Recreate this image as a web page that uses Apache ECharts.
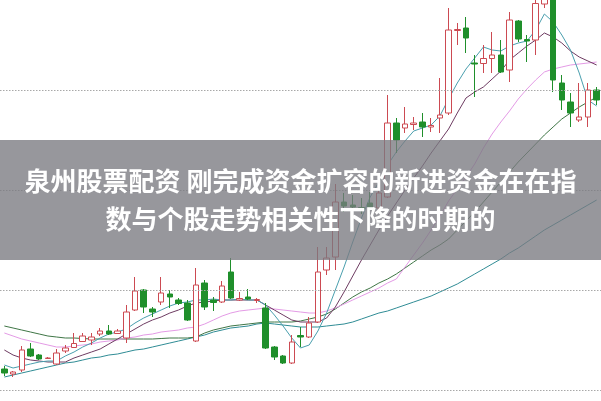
<!DOCTYPE html>
<html>
<head>
<meta charset="utf-8">
<script src="https://cdn.jsdelivr.net/npm/echarts@6/dist/echarts.min.js"></script>
<style>html,body{margin:0;padding:0;background:#fff}#c{width:601px;height:401px}</style>
</head>
<body>
<div id="c"></div>
<script>
// [open, close, low, high]
const candles = [
[10.21,10.17,10.14,10.24],[10.16,10.18,10.13,10.19],[10.20,10.40,10.18,10.44],[10.41,10.34,10.33,10.47],
[10.35,10.31,10.30,10.36],[10.315,10.32,10.31,10.33],[10.26,10.37,10.25,10.41],[10.39,10.42,10.37,10.45],
[10.425,10.465,10.42,10.57],[10.485,10.54,10.48,10.57],[10.50,10.53,10.45,10.57],[10.56,10.59,10.54,10.62],
[10.59,10.56,10.55,10.65],[10.565,10.59,10.56,10.61],[10.52,10.78,10.47,10.85],[10.80,10.99,10.79,11.13],
[11.00,10.83,10.77,11.01],[10.81,10.78,10.73,10.83],[10.88,10.97,10.85,11.13],[10.96,10.93,10.82,11.00],
[10.90,10.865,10.85,10.92],[10.87,10.70,10.69,10.90],[10.49,11.05,10.48,11.22],[11.07,10.83,10.80,11.10],
[10.90,10.875,10.79,10.93],[10.88,11.04,10.87,11.09],[11.18,10.92,10.91,11.32],[10.90,10.915,10.89,10.98],
[10.93,10.91,10.90,11.01],[10.895,10.905,10.87,10.92],[10.82,10.42,10.41,10.87],[10.43,10.33,10.30,10.44],
[10.34,10.27,10.26,10.35],[10.27,10.48,10.26,10.55],[10.545,10.53,10.43,10.63],[10.53,10.67,10.52,10.73],
[10.68,11.18,10.67,11.43],[11.20,11.32,11.15,11.43],[11.33,11.88,11.20,12.06],[11.88,11.84,11.78,11.97],
[11.85,11.83,11.77,11.95],[11.825,11.81,11.76,11.92],[11.87,11.82,11.78,11.98],[11.82,11.97,11.80,12.08],
[11.93,12.67,11.92,12.95],[12.67,12.50,12.37,12.72],[12.62,12.66,12.57,12.83],[12.655,12.67,12.60,12.73],
[12.68,12.63,12.53,12.77],[12.63,12.645,12.58,12.72],[12.72,12.75,12.57,13.12],[12.77,13.60,12.75,13.82],
[13.595,13.605,13.45,13.67],[13.62,13.52,13.37,13.73],[13.27,13.26,12.93,13.35],[13.265,13.315,13.17,13.45],
[13.315,13.35,13.17,13.58],[13.35,13.18,13.17,13.50],[13.20,13.70,13.08,13.78],[13.69,13.51,13.48,13.70],
[13.505,13.49,13.28,13.55],[13.50,13.865,13.35,13.90],[13.86,13.92,13.82,13.95],[13.91,13.10,12.98,13.95],
[13.07,12.90,12.80,13.15],[12.88,12.77,12.63,12.97],[12.70,12.73,12.68,13.07],[12.73,13.00,12.63,13.07],
[13.00,12.90,12.85,13.03]
];
const categories = candles.map((_, i) => 'D' + (i + 1));
const ma5 = [10.25,10.22,10.24,10.26,10.28,10.29,10.29,10.34,10.38,10.43,10.47,10.52,10.56,10.58,10.61,10.67,10.72,10.76,10.80,10.84,10.87,10.88,10.90,10.90,10.91,10.90,10.90,10.91,10.90,10.90,10.85,10.75,10.64,10.52,10.42,10.45,10.59,10.77,11.00,11.23,11.48,11.72,11.93,12.08,12.25,12.38,12.49,12.59,12.62,12.65,12.74,12.91,13.07,13.21,13.32,13.43,13.40,13.39,13.44,13.47,13.49,13.60,13.76,13.68,13.55,13.40,13.17,12.90,12.84];
const ma10 = [10.40,10.35,10.32,10.30,10.29,10.28,10.28,10.28,10.32,10.35,10.38,10.41,10.46,10.51,10.56,10.61,10.66,10.70,10.73,10.77,10.80,10.84,10.87,10.88,10.89,10.90,10.90,10.90,10.90,10.90,10.85,10.80,10.75,10.70,10.68,10.68,10.68,10.72,10.83,10.98,11.14,11.30,11.45,11.60,11.74,11.87,12.00,12.12,12.24,12.37,12.49,12.61,12.77,12.92,12.98,13.03,13.11,13.19,13.30,13.37,13.44,13.50,13.57,13.53,13.47,13.39,13.33,13.29,13.25];
const ma20 = [10.57,10.54,10.51,10.49,10.47,10.45,10.43,10.43,10.44,10.45,10.46,10.48,10.49,10.50,10.52,10.53,10.55,10.56,10.58,10.59,10.60,10.62,10.63,10.66,10.70,10.74,10.77,10.79,10.80,10.81,10.82,10.81,10.80,10.79,10.78,10.77,10.77,10.79,10.82,10.86,10.90,10.94,10.98,11.02,11.07,11.11,11.23,11.35,11.47,11.60,11.74,11.89,12.01,12.13,12.26,12.42,12.56,12.68,12.79,12.91,13.01,13.10,13.18,13.21,13.23,13.25,13.26,13.27,13.28];
const ma30 = [10.64,10.62,10.60,10.58,10.56,10.54,10.53,10.52,10.52,10.515,10.51,10.51,10.51,10.51,10.51,10.51,10.51,10.51,10.515,10.52,10.52,10.52,10.53,10.57,10.60,10.62,10.64,10.65,10.66,10.67,10.68,10.68,10.68,10.68,10.69,10.71,10.73,10.76,10.81,10.87,10.93,10.98,11.02,11.07,11.11,11.16,11.22,11.28,11.34,11.40,11.45,11.51,11.60,11.69,11.78,11.88,11.98,12.08,12.18,12.28,12.37,12.46,12.55,12.63,12.71,12.77,12.83,12.88,12.93];
const ma60 = [10.13,10.15,10.17,10.19,10.21,10.23,10.25,10.27,10.28,10.30,10.32,10.33,10.35,10.36,10.38,10.40,10.41,10.43,10.45,10.47,10.49,10.51,10.53,10.55,10.58,10.60,10.62,10.63,10.64,10.66,10.67,10.66,10.65,10.64,10.63,10.63,10.63,10.64,10.65,10.66,10.68,10.71,10.74,10.77,10.79,10.82,10.85,10.88,10.91,10.94,10.98,11.02,11.06,11.11,11.16,11.21,11.26,11.31,11.37,11.42,11.48,11.54,11.60,11.65,11.70,11.75,11.80,11.85,11.90];
const gridLevels = [10, 11, 12, 13];
const titleLines = ['泉州股票配资 刚完成资金扩容的新进资金在在指', '数与个股走势相关性下降的时期的'];

const chart = echarts.init(document.getElementById('c'), null, {renderer: 'canvas'});
function ma(name, data, color) {
  return {name, type: 'line', data, symbol: 'none', smooth: false,
    lineStyle: {color, width: 1}, z: 3, silent: true, animation: false};
}
chart.setOption({
  animation: false,
  backgroundColor: '#ffffff',
  grid: {left: 0, right: 0, top: 0, bottom: 0, containLabel: false},
  xAxis: {type: 'category', data: categories, boundaryGap: true,
    axisLine: {show: false}, axisTick: {show: false}, axisLabel: {show: false}, splitLine: {show: false}},
  yAxis: {type: 'value', min: 9.89, max: 13.9, scale: true,
    axisLine: {show: false}, axisTick: {show: false}, axisLabel: {show: false}, splitLine: {show: false}},
  series: [
    {name: 'grid', type: 'line', data: [], z: 1, silent: true,
      markLine: {silent: true, symbol: 'none', label: {show: false}, animation: false,
        lineStyle: {color: '#a8a8a8', width: 1, type: [1.5, 1.5]},
        data: gridLevels.map(v => ({yAxis: v}))}},
    ma('MA60', ma60, '#2f8c95'),
    ma('MA30', ma30, '#3f7646'),
    ma('MA20', ma20, '#e49be6'),
    ma('MA10', ma10, '#6e3c62'),
    ma('MA5', ma5, '#4a9fae'),
    {name: 'K', type: 'candlestick', data: candles, barWidth: 6, z: 4,
      itemStyle: {color: '#ffffff', color0: '#1f8f2b', borderColor: '#cc4a52', borderColor0: '#1f8f2b', borderWidth: 1}}
  ],
  graphic: [
    {type: 'rect', left: 0, top: 140, z: 100, shape: {width: 601, height: 120},
      style: {fill: 'rgba(122,122,128,0.78)'}},
    {type: 'text', z: 101, left: 'center', top: 168,
      style: {text: titleLines[0], fill: '#ffffff', font: 'bold 26px "Noto Sans CJK SC"'}},
    {type: 'text', z: 101, left: 'center', top: 206,
      style: {text: titleLines[1], fill: '#ffffff', font: 'bold 26px "Noto Sans CJK SC"'}}
  ]
});
</script>
</body>
</html>
